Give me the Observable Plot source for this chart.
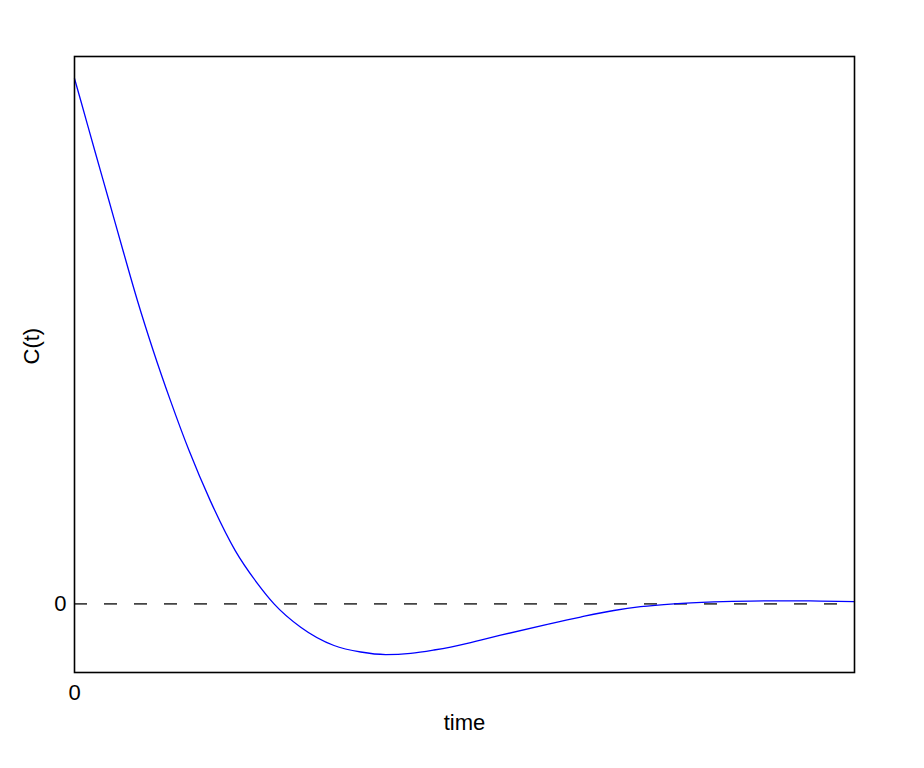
<!DOCTYPE html>
<html>
<head>
<meta charset="utf-8">
<script src="https://cdn.jsdelivr.net/npm/d3@7"></script>
<script src="https://cdn.jsdelivr.net/npm/@observablehq/plot@0.6"></script>
<style>
  html, body { margin: 0; padding: 0; background: #fff; }
</style>
</head>
<body>
<div id="chart"></div>
<script>
// Values
const time = [0, 0.0807, 0.2602, 0.4421, 0.6228, 0.8074, 1.0099, 1.2303, 1.4687, 1.7404, 2.0608, 2.3491, 2.558,
  2.9001, 3.3269, 3.6691, 3.9895, 4.3099, 4.6085, 4.8225, 5.0365, 5.207, 5.4633, 6.0618, 6.4885, 6.9153, 7.2575,
  7.6842, 8.1969, 8.6672, 9.0517, 9.5643, 10];
const corr = [1.000, 0.9576, 0.8624, 0.7673, 0.6722, 0.5770, 0.4819, 0.3868, 0.2917, 0.1965, 0.1014, 0.0381, 0.000,
  -0.0445, -0.0793, -0.0917, -0.0965, -0.0942, -0.0879, -0.0822, -0.0752, -0.0689, -0.0597, -0.0390, -0.0251, -0.0127, -0.0055,
  0.000, 0.0036, 0.0053, 0.0057, 0.0053, 0.0044];
const xTicks = [0];
const yTicks = [0];
const xLabel = "time";
const yLabel = "C(t)";

const data = time.map((t, i) => ({t, c: corr[i]}));

const chart = Plot.plot({
  width: 924,
  height: 768,
  marginLeft: 74,
  marginRight: 70,
  marginTop: 56,
  marginBottom: 96,
  style: {fontFamily: "'Liberation Sans', Arial, sans-serif", fontSize: "22px", color: "#000", background: "#fff"},
  x: {domain: [0, 10]},
  y: {domain: [-0.1307, 1.0419]},
  marks: [
    Plot.ruleY([0], {stroke: "#444", strokeWidth: 1.6, strokeDasharray: "13,17"}),
    Plot.line(data, {x: "t", y: "c", stroke: "#0000ff", strokeWidth: 1.3, curve: "monotone-x"}),
    Plot.frame({stroke: "#000", strokeWidth: 1.6}),
    Plot.axisX(xTicks, {tickSize: 0, tickPadding: 12, tickFormat: d3.format("d"), label: null, fill: "#000", fontSize: 22}),
    Plot.axisY(yTicks, {tickSize: 0, tickPadding: 8, tickFormat: d3.format("d"), label: null, fill: "#000", fontSize: 22}),
    Plot.text([xLabel], {frameAnchor: "bottom", dy: 57, lineAnchor: "bottom", fontSize: 22, fill: "#000"}),
    Plot.text([yLabel], {frameAnchor: "left", dx: -36, rotate: -90, lineAnchor: "bottom", fontSize: 22, fill: "#000"})
  ]
});
document.getElementById("chart").appendChild(chart);
</script>
</body>
</html>
